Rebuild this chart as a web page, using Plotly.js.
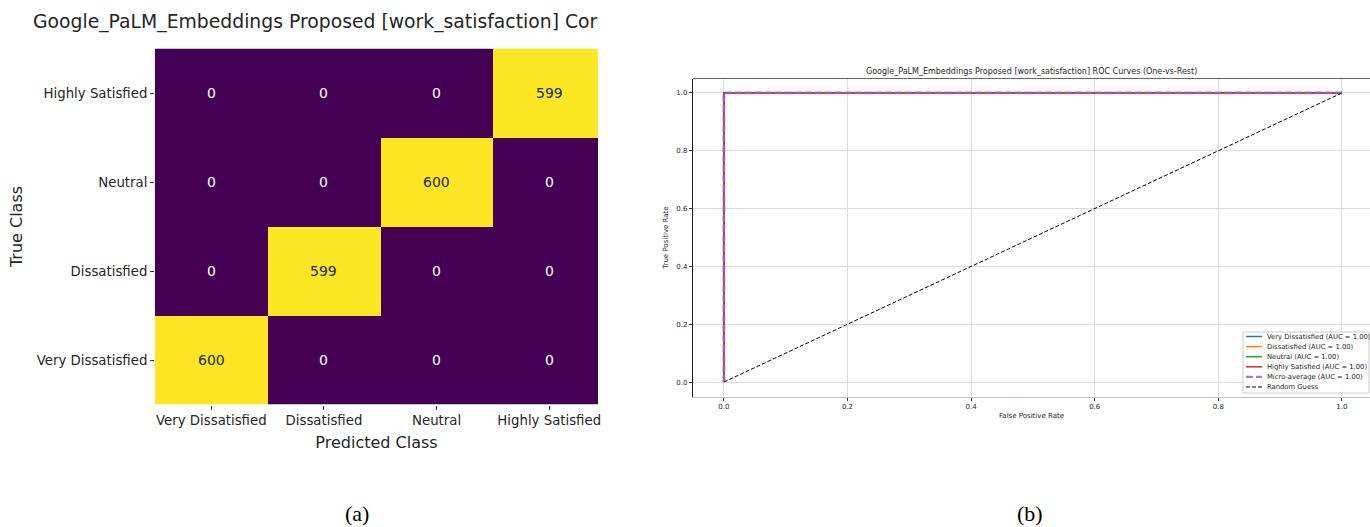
<!DOCTYPE html>
<html><head><meta charset="utf-8">
<script src="https://cdn.plot.ly/plotly-3.0.1.min.js"></script>
<style>body{margin:0;padding:0;background:#fff}#chart{width:1370px;height:527px}</style>
</head><body><div id="chart"></div>
<script>
// ---- Data ----
const classes = ["Very Dissatisfied", "Dissatisfied", "Neutral", "Highly Satisfied"];
// confusion matrix rows = true class, cols = predicted class (order as classes)
const cmVeryDissatisfied = [600, 0, 0, 0];
const cmDissatisfied     = [0, 599, 0, 0];
const cmNeutral          = [0, 0, 600, 0];
const cmHighlySatisfied  = [0, 0, 0, 599];
const cmRows = [cmVeryDissatisfied, cmDissatisfied, cmNeutral, cmHighlySatisfied];

// ROC curves
const rocFpr = [0, 0, 1];
const rocTpr = [0, 1, 1];
const aucValues = [1.00, 1.00, 1.00, 1.00];
const microAuc = 1.00;
const randomX = [0, 1];
const randomY = [0, 1];
const classColors = ["#1f77b4", "#ff7f0e", "#2ca02c", "#d62728"];

const leftTitle = "Google_PaLM_Embeddings Proposed [work_satisfaction] Cor";
const rightTitle = "Google_PaLM_Embeddings Proposed [work_satisfaction] ROC Curves (One-vs-Rest)";

const W = 1370, H = 527;
const fx = p => p / W, fy = p => 1 - p / H;
const FONT = "DejaVu Sans, sans-serif";

const traces = [];
traces.push({
  type: "heatmap", z: cmRows, x: classes, y: classes,
  colorscale: "Viridis", showscale: false, xaxis: "x", yaxis: "y",
  xgap: 0, ygap: 0, hoverinfo: "skip"
});
classes.forEach((c, i) => {
  traces.push({
    type: "scatter", mode: "lines", x: rocFpr, y: rocTpr, xaxis: "x2", yaxis: "y2",
    line: {color: classColors[i], width: 1.5},
    name: c + " (AUC = " + aucValues[i].toFixed(2) + ")"
  });
});
traces.push({
  type: "scatter", mode: "lines", x: rocFpr, y: rocTpr, xaxis: "x2", yaxis: "y2",
  line: {color: "rgba(148,103,189,0.85)", width: 2.8, dash: "7px,3px"},
  name: "Micro-average (AUC = " + microAuc.toFixed(2) + ")"
});
traces.push({
  type: "scatter", mode: "lines", x: randomX, y: randomY, xaxis: "x2", yaxis: "y2",
  line: {color: "#000000", width: 1, dash: "4px,2px"},
  name: "Random Guess"
});

const maxV = Math.max(...cmRows.flat());
const annotations = [];
const shapes = [];
cmRows.forEach((row, r) => {
  row.forEach((v, c) => {
    annotations.push({
      xref: "x", yref: "y", x: classes[c], y: classes[r], text: String(v), showarrow: false,
      font: {family: FONT, size: 14, color: v > maxV / 2 ? "#262626" : "#ffffff"}
    });
  });
});
annotations.push({xref: "paper", yref: "paper", x: fx(31), y: fy(22), xanchor: "left", yanchor: "middle",
  text: leftTitle, showarrow: false, font: {family: FONT, size: 18.8, color: "#262626"}});
annotations.push({xref: "paper", yref: "paper", x: fx(1031), y: fy(72), xanchor: "center", yanchor: "middle",
  text: rightTitle, showarrow: false, font: {family: FONT, size: 8, color: "#262626"}});
annotations.push({xref: "paper", yref: "paper", x: fx(357), y: fy(513), xanchor: "center", yanchor: "middle",
  text: "(a)", showarrow: false, font: {family: "Liberation Serif, serif", size: 22, color: "#000"}});
annotations.push({xref: "paper", yref: "paper", x: fx(1030), y: fy(513), xanchor: "center", yanchor: "middle",
  text: "(b)", showarrow: false, font: {family: "Liberation Serif, serif", size: 22, color: "#000"}});

// top spine of ROC panel (darker than bottom one)
shapes.push({type: "line", xref: "paper", yref: "paper", x0: fx(693), x1: 1, y0: fy(78.5), y1: fy(78.5),
  line: {color: "#666666", width: 1.2}, layer: "above"});

// custom compact legend (matplotlib-like), built from the ROC traces
const legBox = {x0: 1243, x1: 1369, y0: 332, y1: 393};
shapes.push({type: "rect", xref: "paper", yref: "paper",
  x0: fx(legBox.x0), x1: fx(legBox.x1), y0: fy(legBox.y1), y1: fy(legBox.y0),
  line: {color: "#cccccc", width: 1}, fillcolor: "rgba(255,255,255,0.85)", layer: "above"});
const rocTraces = traces.slice(1);
rocTraces.forEach((t, i) => {
  const yc = 336.5 + i * 10.1;
  shapes.push({type: "line", xref: "paper", yref: "paper",
    x0: fx(1246), x1: fx(1262), y0: fy(yc), y1: fy(yc), layer: "above",
    line: {color: t.line.color, width: Math.min(t.line.width, 2.2), dash: t.line.dash || "solid"}});
  annotations.push({xref: "paper", yref: "paper", x: fx(1265), y: fy(yc), xanchor: "left", yanchor: "middle",
    text: t.name, showarrow: false, font: {family: FONT, size: 6.8, color: "#262626"}});
});

const layout = {
  width: W, height: H, margin: {l: 0, r: 0, t: 0, b: 0},
  paper_bgcolor: "#fff", plot_bgcolor: "#fff", showlegend: false,
  font: {family: FONT, color: "#262626"},
  xaxis: {
    domain: [fx(155), fx(598)], anchor: "y", type: "category",
    range: [-0.5, 3.433], showgrid: false, zeroline: false, fixedrange: true,
    ticks: "outside", ticklen: 4, tickcolor: "#333", tickfont: {family: FONT, size: 13.3, color: "#262626"},
    title: {text: "Predicted Class", font: {family: FONT, size: 16, color: "#262626"}, standoff: 9}
  },
  yaxis: {
    domain: [fy(404.5), fy(48.5)], anchor: "x", type: "category",
    range: [-0.5, 3.5], showgrid: false, zeroline: false, fixedrange: true,
    ticks: "outside", ticklen: 4, tickcolor: "#333", tickfont: {family: FONT, size: 13.3, color: "#262626"},
    title: {text: "True Class", font: {family: FONT, size: 16, color: "#262626"}, standoff: 10}
  },
  xaxis2: {
    domain: [fx(693), 1], anchor: "y2", range: [-0.05, -0.05 + 677 / 618],
    tickvals: [0, 0.2, 0.4, 0.6, 0.8, 1.0], ticktext: ["0.0", "0.2", "0.4", "0.6", "0.8", "1.0"],
    showgrid: true, gridcolor: "#dcdcdc", gridwidth: 1, zeroline: false,
    showline: true, linecolor: "#c4c4c4", linewidth: 1.2,
    ticks: "outside", ticklen: 3, tickcolor: "#333", tickfont: {family: FONT, size: 7, color: "#262626"},
    title: {text: "False Positive Rate", font: {family: FONT, size: 7, color: "#262626"}, standoff: 3}
  },
  yaxis2: {
    domain: [fy(396.5), fy(78.5)], anchor: "x2", range: [-0.05, 1.05],
    tickvals: [0, 0.2, 0.4, 0.6, 0.8, 1.0], ticktext: ["0.0", "0.2", "0.4", "0.6", "0.8", "1.0"],
    showgrid: true, gridcolor: "#dcdcdc", gridwidth: 1, zeroline: false,
    showline: true, linecolor: "#222", linewidth: 1.2,
    ticks: "outside", ticklen: 3, tickcolor: "#333", tickfont: {family: FONT, size: 7, color: "#262626"},
    title: {text: "True Positive Rate", font: {family: FONT, size: 7, color: "#262626"}, standoff: 6}
  },
  annotations: annotations,
  shapes: shapes
};

Plotly.newPlot("chart", traces, layout, {displayModeBar: false, staticPlot: true});
</script></body></html>
